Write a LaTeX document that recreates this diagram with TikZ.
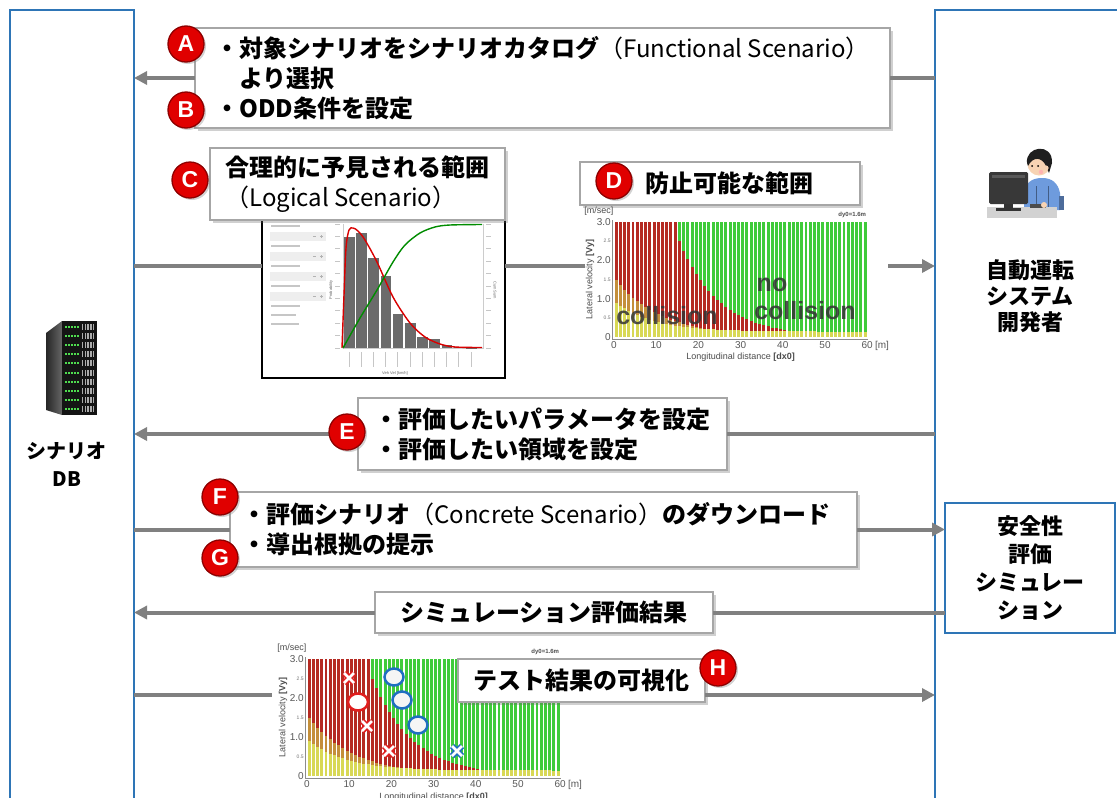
\documentclass[tikz,border=0pt]{standalone}
\usepackage{fontspec}
\newfontfamily\jp{Noto Sans CJK JP}
\newfontfamily\lat{Liberation Sans}
\usetikzlibrary{arrows.meta,shadows}

\definecolor{laneblue}{HTML}{2E75B6}
\definecolor{boxgray}{HTML}{A6A6A6}
\definecolor{arrgray}{HTML}{808080}
\definecolor{badgered}{HTML}{E00000}
\definecolor{badgedark}{HTML}{8E0000}
\definecolor{cred}{HTML}{B52A22}
\definecolor{cgrn}{HTML}{3FCB3A}
\definecolor{cyel}{HTML}{D8D855}
\definecolor{corg}{HTML}{C48F3A}
\definecolor{barg}{HTML}{6B6B6B}
\definecolor{xred}{HTML}{E01E1E}
\definecolor{xblue}{HTML}{1F6FC0}
\definecolor{shirt}{HTML}{6E9BDD}
\definecolor{skin}{HTML}{F7D3B3}
\definecolor{ledgreen}{HTML}{4FDC4F}

\tikzset{
  lane/.style={draw=laneblue, line width=2.5pt, outer sep=0pt, inner sep=0pt, anchor=north west},
  msgbox/.style={draw=boxgray, line width=2pt, fill=white, outer sep=0pt, inner sep=0pt,
    anchor=north west, align=left, font=\jp\bfseries\fontsize{24}{30}\selectfont,
    drop shadow={opacity=0.3, shadow xshift=2.5pt, shadow yshift=-2.5pt, fill=black!60}},
  badge/.style={circle, minimum size=36pt, inner sep=0pt, fill=badgered, draw=badgedark,
    line width=1.3pt, text=white, font=\lat\bfseries\fontsize{23}{23}\selectfont,
    drop shadow={opacity=0.35, shadow xshift=2pt, shadow yshift=-2pt}},
  link/.style={draw=arrgray, line width=4pt},
  arr/.style={link, -{Triangle[length=13pt,width=13pt]}},
  tinytxt/.style={font=\lat\fontsize{4}{4}\selectfont, text=black!60, inner sep=0pt},
  ticklbl/.style={font=\lat\fontsize{10}{10}\selectfont, text=black!65, inner sep=1pt},
  smalltick/.style={font=\lat\fontsize{5}{5}\selectfont, text=black!55, inner sep=1pt},
  axlbl/.style={font=\lat\fontsize{9}{9}\selectfont, text=black!70, inner sep=0pt},
  bigword/.style={font=\lat\bfseries\fontsize{25}{25}\selectfont, text=black!80, inner sep=0pt},
  chartframe/.style={anchor=north west, inner sep=0pt, outer sep=0pt},
}

% collision map in data coordinates: x = 0..60 m, y = 0..3 m/s
\newcommand{\collisionmap}{%
  \foreach \i in {0,...,59} {%
    \pgfmathsetmacro\xc{\i+0.5}%
    \pgfmathsetmacro\yh{0.14+0.8*exp(-\xc/9)}%
    \pgfmathsetmacro\oh{max(\yh,1.55*exp(-\xc/11))}%
    \pgfmathsetmacro\rb{ifthenelse(\xc<15.5,3,min(3,max(\oh,2.5*exp(-0.105*(\xc-15.5)))))}%
    \fill[cgrn] (\i+0.15,\rb) rectangle (\i+0.85,3);
    \fill[cred] (\i+0.15,\oh) rectangle (\i+0.85,\rb);
    \fill[corg] (\i+0.15,\yh) rectangle (\i+0.85,\oh);
    \fill[cyel] (\i+0.15,0) rectangle (\i+0.85,\yh);
  }
  \draw[black!45, line width=0.6pt] (-0.4,3.05) -- (-0.4,-0.05) -- (60.3,-0.05);
  \foreach \v/\t in {0/0,1/1.0,2/2.0,3/3.0} \node[ticklbl, anchor=east] at (-0.5,\v) {\t};
  \foreach \v in {0.5,1.5,2.5} \node[smalltick, anchor=east] at (-0.5,\v) {\v};
  \foreach \x in {0,10,...,60} \node[ticklbl, anchor=north] at (\x,-0.08) {\x};
  \node[ticklbl, anchor=north] at (63.5,-0.08) {[m]};
  \node[axlbl, anchor=north] at (30,-0.42) {Longitudinal distance \textbf{[dx0]}};
  \node[axlbl, rotate=90] at (-5.7,1.5) {Lateral velocity \textbf{[Vy]}};
  \node[axlbl, anchor=south] at (-3.6,3.17) {[m/sec]};
  \node[font=\lat\bfseries\fontsize{6}{6}\selectfont, anchor=south east, text=black!70, inner sep=1pt] at (60,3.07) {dy0=1.6m};
}

\begin{document}
\begin{tikzpicture}[x=1pt,y=-1pt]
\useasboundingbox (0,0) rectangle (1117,798);
\fill[white] (0,0) rectangle (1117,798);

% swim lanes
\node[lane, minimum width=124pt, minimum height=840pt] (dbl) at (10,10) {};
\node[lane, minimum width=200pt, minimum height=840pt] (devl) at (935,10) {};

% ---- chart frames ----
\node[chartframe, draw=black, line width=2pt, fill=white, minimum width=243pt, minimum height=160pt] (chartC) at (262,218) {};
\node[chartframe, minimum width=303pt, minimum height=156pt] (chartD) at (585,208) {};
\node[chartframe, minimum width=330pt, minimum height=160pt] (chartH) at (272,643) {};

% ---- histogram chart contents ----
\foreach \j in {0,...,3} {
  \draw[gray!45, line width=1.2pt] (271,{226+\j*20}) -- (300,{226+\j*20});
  \fill[gray!13] (270,{232+\j*20}) rectangle (326,{241+\j*20});
  \draw[gray!60, line width=0.6pt] (313,{236.5+\j*20}) -- (316,{236.5+\j*20});
  \draw[gray!60, line width=0.6pt] (320,{236.5+\j*20}) -- (323,{236.5+\j*20}) (321.5,{235+\j*20}) -- (321.5,{238+\j*20});
}
\foreach \j/\w in {0/300,1/296,2/299} \draw[gray!45, line width=1.2pt] (271,{306+\j*9}) -- (\w,{306+\j*9});
\draw[gray!40, line width=0.5pt] (343,224) -- (343,348) -- (483,348) -- (483,224);
\foreach \j in {0,...,10} {
  \draw[gray!45, line width=1pt] (335,{224+\j*12.4}) -- (340,{224+\j*12.4});
  \draw[gray!45, line width=1pt] (486,{224+\j*12.4}) -- (491,{224+\j*12.4});
}
\foreach \k/\t in {0/237,1/233,2/258,3/276,4/314,5/323,6/337,7/339,8/345,9/347,10/347.5}
  \fill[barg] ({344+\k*12.2},\t) rectangle ({354.5+\k*12.2},348);
\foreach \k in {0,...,10} \draw[gray!45, line width=1pt] ({349+\k*12.2},352) -- ({349+\k*12.2},367);
\draw[red!85!black, line width=1.4pt] plot[smooth] coordinates
  {(342,348) (344,295) (346,248) (349,230) (353,228) (358,231) (365,240) (377,262) (393,297) (410,323) (425,337) (440,344) (455,347) (482,347.5)};
\draw[green!55!black, line width=1.4pt] plot[smooth] coordinates
  {(343,348) (360,318) (377,290) (393,262) (405,245) (420,233) (435,227) (450,225) (482,224.5)};
\node[tinytxt, rotate=90] at (331,290) {Probability};
\node[tinytxt, rotate=-90] at (495,290) {Cum Sum};
\node[tinytxt] at (395,373) {Veh Vel [km/h]};

% ---- preventable range map ----
\begin{scope}[shift={(614,337)},x=4.22pt,y=38.3pt]
  \collisionmap
\end{scope}
\node[bigword, opacity=0.85] (wc1) at (667,316) {collision};
\node[bigword, opacity=0.85] (wno) at (772,285) {no};
\node[bigword, opacity=0.85] (wc2) at (805,311) {collision};

% ---- test result map ----
\begin{scope}[shift={(307,776)},x=4.22pt,y=39pt]
  \collisionmap
\end{scope}
\foreach \mx/\my in {349/678,367/726,389/751} {
  \draw[xred, line width=6pt] (\mx-5,\my-5) -- (\mx+5,\my+5) (\mx-5,\my+5) -- (\mx+5,\my-5);
  \draw[white, line width=2.6pt] (\mx-5,\my-5) -- (\mx+5,\my+5) (\mx-5,\my+5) -- (\mx+5,\my-5);
}
\draw[xblue, line width=6pt] (452,746) -- (462,756) (452,756) -- (462,746);
\draw[white, line width=2.6pt] (452,746) -- (462,756) (452,756) -- (462,746);
\draw[xred, fill=white, line width=2.5pt] (358,702) ellipse [x radius=10pt, y radius=8.5pt];
\foreach \mx/\my in {394/677,402/700,418/725}
  \draw[xblue, fill=gray!8, line width=2.5pt] (\mx,\my) ellipse [x radius=9.5pt, y radius=8.5pt];

% ---- message boxes ----
\node[msgbox, minimum width=695pt, minimum height=100pt] (boxA) at (195,28)
  {・対象シナリオをシナリオカタログ{\mdseries（Functional Scenario）}\\\hspace*{1em}より選択\\・ODD条件を設定};
\node[msgbox, minimum width=295pt, minimum height=72pt] (boxC) at (210,148)
  {合理的に予見される範囲\\{\mdseries（Logical Scenario）}};
\node[msgbox, minimum width=280pt, minimum height=43pt] (boxD) at (580,162)
  {\hspace*{18pt}防止可能な範囲};
\node[msgbox, minimum width=369pt, minimum height=72pt] (boxE) at (358,398)
  {・評価したいパラメータを設定\\・評価したい領域を設定};
\node[msgbox, minimum width=627pt, minimum height=75pt] (boxF) at (230,492)
  {\hspace*{-14pt}・評価シナリオ{\mdseries（Concrete Scenario）}のダウンロード\\\hspace*{-14pt}・導出根拠の提示};
\node[msgbox, minimum width=338pt, minimum height=41pt] (boxR) at (375,592)
  {シミュレーション評価結果};
\node[msgbox, minimum width=247pt, minimum height=43pt] (boxH) at (458,659)
  {テスト結果の可視化};

% simulation box
\node[draw=laneblue, line width=2.5pt, fill=white, minimum width=170pt, minimum height=130pt,
  anchor=north west, align=center, outer sep=0pt, inner sep=0pt,
  font=\jp\bfseries\fontsize{22}{28}\selectfont] (sim) at (945,503)
  {安全性\\評価\\シミュレー\\ション};

% ---- connectors ----
\coordinate (rowCD) at (0,266);
\coordinate (rowH) at (0,695);
\draw[link] (devl.west |- boxA.east) -- (boxA.east);
\draw[arr] (boxA.west) -- (dbl.east |- boxA.west);
\draw[link] (dbl.east |- rowCD) -- (chartC.west |- rowCD);
\draw[link] (chartC.east |- rowCD) -- (chartD.west |- rowCD);
\draw[arr] (chartD.east |- rowCD) -- (devl.west |- rowCD);
\draw[link] (devl.west |- boxE.east) -- (boxE.east);
\draw[arr] (boxE.west) -- (dbl.east |- boxE.west);
\draw[link] (dbl.east |- boxF.west) -- (boxF.west);
\draw[arr] (boxF.east) -- (sim.west |- boxF.east);
\draw[link] (sim.west |- boxR.east) -- (boxR.east);
\draw[arr] (boxR.west) -- (dbl.east |- boxR.west);
\draw[link] (dbl.east |- rowH) -- (chartH.west |- rowH);
\draw[arr] (boxH.east |- rowH) -- (devl.west |- rowH);

% badges
\node[badge] (bA) at (186,44) {A};
\node[badge] (bB) at (186,110) {B};
\node[badge] (bC) at (190,180) {C};
\node[badge] (bD) at (614,181) {D};
\node[badge] (bE) at (347,432) {E};
\node[badge] (bF) at (220,497) {F};
\node[badge] (bG) at (220,558) {G};
\node[badge] (bH) at (718,668) {H};

% ---- database server ----
\shade[left color=black!85, right color=black!60] (46,333) -- (62,321) -- (62,415) -- (46,410) -- cycle;
\fill[black!92] (62,321) rectangle (97,415);
\foreach \r in {0,...,9} {
  \foreach \k in {0,...,4} \fill[ledgreen] ({64.5+\k*3.1},{325.5+\r*9.2}) rectangle ++(2,2);
  \foreach \k in {0,...,4} \fill[gray!65] ({82+\k*2.7},{323.5+\r*9.2}) rectangle ++(1.4,6);
}
\node[font=\jp\bfseries\fontsize{20}{28}\selectfont, align=center] (dbtxt) at (67,464) {シナリオ\\DB};

% ---- developer at desk ----
\fill[shirt] (1024,210) -- (1024,192) .. controls (1026,181) and (1034,178) .. (1042,178)
  .. controls (1052,178) and (1058,183) .. (1060,193) -- (1060,210) -- cycle;
\draw[shirt!60!black, line width=0.6pt] (1036,186) -- (1036,208) (1048,186) -- (1048,208);
\fill[shirt!70!black] (1059,196) rectangle (1064,210);
\fill[skin] (1039,164) circle (11.5);
\fill[black!88] (1027,163) .. controls (1025,146) and (1053,142) .. (1052,163)
  -- (1049,173) -- (1046,166) .. controls (1042,157) and (1033,156) .. (1028,166) -- cycle;
\fill[skin] (1046,168) circle (2.6);
\fill[black] (1032,166) circle (1);
\fill[black] (1038,166) circle (1);
\fill[red!30] (1041,172) circle (2.2);
\fill[gray!35] (987,207) rectangle (1057,218);
\fill[black!80] (1004,203) rectangle (1013,209);
\fill[black!80] (996,208) rectangle (1021,211);
\fill[black!78, rounded corners=1.5pt] (989,172) rectangle (1028,204);
\fill[black!65] (992,175) rectangle (1025,178);
\fill[black!70] (1030,204) rectangle (1046,207.5);
\fill[skin] (1044,205) circle (3);
\node[font=\jp\bfseries\fontsize{22}{26}\selectfont, align=center] (devtxt) at (1030,296) {自動運転\\システム\\開発者};

\end{tikzpicture}
\end{document}
